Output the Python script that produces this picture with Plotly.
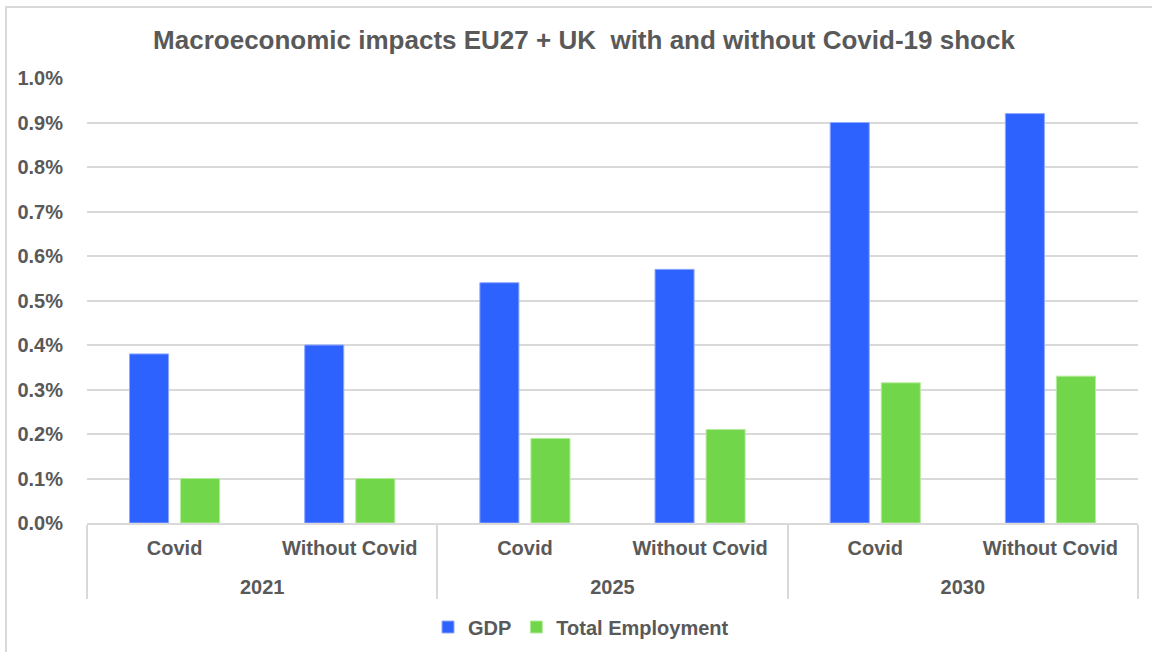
import plotly.graph_objects as go

# Data
years = ["2021", "2021", "2025", "2025", "2030", "2030"]
scenarios = ["Covid", "Without Covid", "Covid", "Without Covid", "Covid", "Without Covid"]
gdp = [0.0038, 0.0040, 0.0054, 0.0057, 0.0090, 0.0092]
employment = [0.0010, 0.0010, 0.0019, 0.0021, 0.00315, 0.0033]
tick_vals = [i / 1000 for i in range(0, 11)]
tick_text = ["%.1f%%" % (v * 100) for v in tick_vals]

# category labels are drawn at 20px; the axis base font sets the line step,
# so the year row sits a short line below the scenario row
LABEL = "<span style='font-size:20px'>%s</span>"
year_labels = ["<br>" + LABEL % y for y in years]
scenario_labels = [LABEL % s for s in scenarios]

W, H = 1152, 652
L, R, T, B = 87, 14, 78, 129
pw, ph = W - L - R, H - T - B

FONT = "Liberation Sans, Arial, sans-serif"
GREY = "#595959"

fig = go.Figure()
fig.add_trace(go.Bar(
    name="GDP", x=[year_labels, scenario_labels], y=gdp,
    marker=dict(color="#2E62FF", line=dict(color="#8FA9FF", width=1)),
))
fig.add_trace(go.Bar(
    name="Total Employment", x=[year_labels, scenario_labels], y=employment,
    marker=dict(color="#72D64A", line=dict(color="#B3EB9C", width=1)),
))


def px_x(v):
    return (v - L) / pw


def px_y(v):
    return 1 - (v - T) / ph


# light frame around the chart area (left and top edges visible)
fig.add_shape(type="rect", xref="paper", yref="paper",
              x0=px_x(6), x1=px_x(1170), y0=px_y(7), y1=px_y(670),
              line=dict(color="#D9D9D9", width=2), fillcolor="rgba(0,0,0,0)",
              layer="below")

fig.update_layout(
    width=W, height=H,
    margin=dict(l=L, r=R, t=T, b=B, autoexpand=False),
    paper_bgcolor="white", plot_bgcolor="white",
    barmode="group", bargap=0.417, bargroupgap=0.235,
    title=dict(text="Macroeconomic impacts EU27 + UK  with and without Covid-19 shock",
               x=px_x(584), xanchor="center", xref="paper", y=1 - 40 / H, yanchor="middle",
               font=dict(family=FONT, size=26, color=GREY, weight="bold")),
    font=dict(family=FONT, size=20, color=GREY, weight="bold"),
    legend=dict(orientation="h", x=px_x(581), xanchor="center", y=px_y(627), yanchor="middle",
                font=dict(family=FONT, size=20, color=GREY, weight="bold"),
                itemwidth=30, traceorder="normal"),
    showlegend=True,
)
fig.update_yaxes(
    range=[0, 0.010], tickvals=tick_vals, ticktext=tick_text,
    showgrid=True, gridcolor="#D9D9D9", gridwidth=2,
    zeroline=False, showline=False,
    ticks="outside", ticklen=19, tickcolor="rgba(0,0,0,0)",
    tickfont=dict(family=FONT, size=20, color=GREY, weight="bold"),
)
fig.update_xaxes(
    type="multicategory", showline=True, linecolor="#D9D9D9", linewidth=2,
    showdividers=True, dividercolor="#D9D9D9", dividerwidth=2,
    ticklabelstandoff=8,
    tickfont=dict(family=FONT, size=18, color=GREY, weight="bold"),
    ticks="", showgrid=False,
)

fig.write_html("out.html")
